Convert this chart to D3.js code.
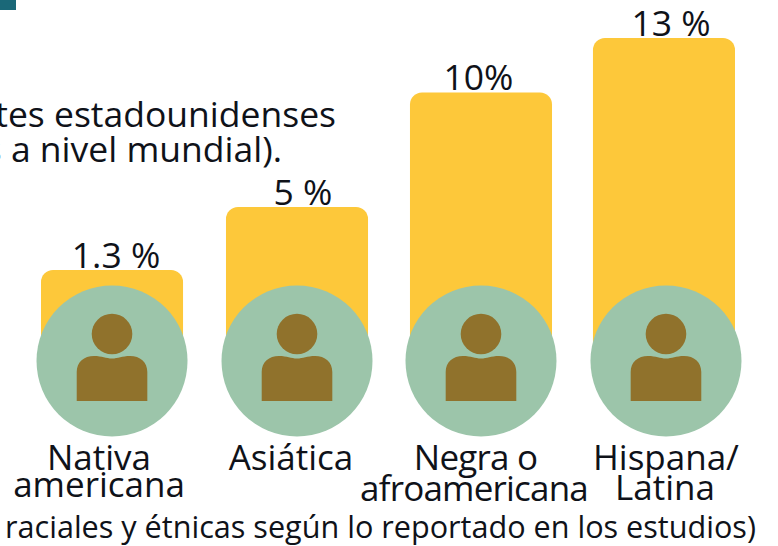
<!DOCTYPE html>
<html>
<head>
<meta charset="utf-8">
<script src="https://d3js.org/d3.v7.min.js"></script>
<style>
  html, body { margin: 0; padding: 0; background: #fff; }
  text { font-family: "Open Sans", sans-serif; fill: #0f1219; }
</style>
</head>
<body>
<script>
// data
var categories = ["Nativa americana", "Asiática", "Negra o afroamericana", "Hispana/Latina"];
var values = [1.3, 5, 10, 13];
var valueLabels = ["1.3 %", "5 %", "10%", "13 %"];
var categoryLines = [["Nativa", "americana"], ["Asiática"], ["Negra o", "afroamericana"], ["Hispana/", "Latina"]];
var noteLines = ["tes estadounidenses", "s a nivel mundial)."];
var footnote = "raciales y étnicas según lo reportado en los estudios)";

var width = 778, height = 546;

var svg = d3.select("body").append("svg")
  .attr("width", width)
  .attr("height", height)
  .style("display", "block");

// the source bars are not to a linear scale, so the scale is piecewise
var x = d3.scaleBand().domain(categories).range([41, 735]).paddingInner(0.228).paddingOuter(0);
var y = d3.scaleLinear().domain([1.3, 5, 10, 13]).range([270, 207, 92.5, 38]);

var baseY = 361, circleR = 75.5;
var barDx = [0, 1, 1, 0];
var badgeDx = [0, 1, 1, 2];
var labelDx = [4, 7, -1.5, 7];
var lineDx = [[-13, -13], [-5], [-4.5, -6], [2, 1]];
var lineY = [[470, 497], [470], [470, 501], [470, 500]];
var lineSpacing = [0, 0, -0.8, 0];

function center(i) { return x(categories[i]) + x.bandwidth() / 2; }

// corner tab
svg.append("rect").attr("x", 0).attr("y", 0).attr("width", 16).attr("height", 10).attr("fill", "#1a6878");

// text behind the bars
svg.selectAll("text.note")
  .data(noteLines)
  .enter().append("text")
    .attr("class", "note")
    .attr("x", function(d, i) { return i == 0 ? 336 : 282; })
    .attr("y", function(d, i) { return i == 0 ? 127 : 162; })
    .attr("text-anchor", "end")
    .style("font-size", "35.5px")
    .text(function(d) { return d; });

// bars
svg.selectAll("rect.bar")
  .data(categories)
  .enter().append("rect")
    .attr("class", "bar")
    .attr("x", function(d, i) { return x(d) + barDx[i]; })
    .attr("y", function(d, i) { return y(values[i]); })
    .attr("width", x.bandwidth())
    .attr("height", function(d, i) { return baseY - y(values[i]); })
    .attr("rx", 12)
    .attr("fill", "#fdc83a");

// value labels
svg.selectAll("text.value")
  .data(valueLabels)
  .enter().append("text")
    .attr("class", "value")
    .attr("x", function(d, i) { return center(i) + labelDx[i]; })
    .attr("y", function(d, i) { return y(values[i]) - 2.5; })
    .attr("text-anchor", "middle")
    .style("font-size", "35.5px")
    .text(function(d) { return d; });

// right edge of the last circle is cut off in the source
svg.append("clipPath").attr("id", "cut")
  .append("rect").attr("x", 0).attr("y", 0).attr("width", 742).attr("height", height);

// person badges
var badge = svg.append("g").attr("clip-path", "url(#cut)")
  .selectAll("g")
  .data(categories)
  .enter().append("g")
    .attr("transform", function(d, i) { return "translate(" + (center(i) + badgeDx[i]) + "," + baseY + ")"; });

badge.append("circle").attr("r", circleR).attr("fill", "#9cc5aa");
badge.append("circle").attr("cy", -27).attr("r", 20.3).attr("fill", "#90722c");
badge.append("path")
  .attr("d", "M-35.3,40 V11 C-35.3,1 -28,-5 -18,-5 C-10,-5 -6,-2.5 0,-2.5 C6,-2.5 10,-5 18,-5 C28,-5 35.3,1 35.3,11 V40 Z")
  .attr("fill", "#90722c");

// category labels
categoryLines.forEach(function(lines, i) {
  svg.selectAll("text.cat" + i)
    .data(lines)
    .enter().append("text")
      .attr("class", "cat" + i)
      .attr("x", function(d, j) { return center(i) + lineDx[i][j]; })
      .attr("y", function(d, j) { return lineY[i][j]; })
      .attr("text-anchor", "middle")
      .style("font-size", "35px")
      .style("letter-spacing", lineSpacing[i] + "px")
      .text(function(d) { return d; });
});

svg.append("text")
  .attr("x", 5)
  .attr("y", 538)
  .style("font-size", "30.6px")
  .text(footnote);
</script>
</body>
</html>
